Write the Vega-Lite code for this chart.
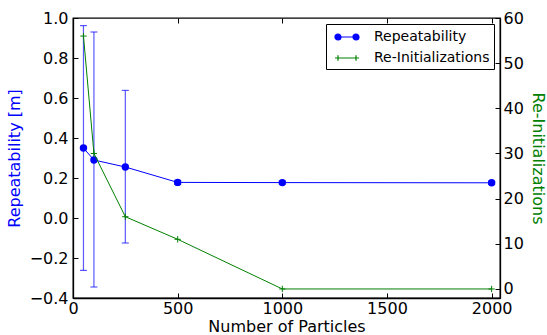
{
  "$schema": "https://vega.github.io/schema/vega-lite/v6.json",
  "width": 427,
  "height": 280,
  "autosize": "none",
  "padding": {"left": 73, "top": 18, "right": 47, "bottom": 37},
  "background": "white",
  "config": {
    "font": "DejaVu Sans",
    "view": {"stroke": "black", "strokeWidth": 1.3},
    "axis": {
      "grid": false,
      "domainColor": "black",
      "domainWidth": 1.3,
      "tickColor": "black",
      "tickSize": -5,
      "tickWidth": 1,
      "labelColor": "black",
      "labelFontSize": 16,
      "titleFontSize": 16,
      "titleFontWeight": "normal",
      "labelPadding": 10,
      "labelOverlap": false,
      "labelFlush": false
    }
  },
  "data": {
    "values": [
      {"n": 50, "rep": 0.35, "lo": -0.262, "hi": 0.962, "reinit": 56},
      {"n": 100, "rep": 0.29, "lo": -0.345, "hi": 0.93, "reinit": 30},
      {"n": 250, "rep": 0.255, "lo": -0.125, "hi": 0.638, "reinit": 16},
      {"n": 500, "rep": 0.178, "lo": 0.168, "hi": 0.188, "reinit": 11},
      {"n": 1000, "rep": 0.177, "lo": 0.169, "hi": 0.185, "reinit": 0},
      {"n": 2000, "rep": 0.176, "lo": 0.168, "hi": 0.184, "reinit": 0}
    ]
  },
  "layer": [
    {
      "encoding": {
        "x": {
          "field": "n",
          "type": "quantitative",
          "scale": {"domain": [0, 2040], "nice": false, "zero": false},
          "axis": {
            "orient": "bottom",
            "values": [0, 500, 1000, 1500, 2000],
            "format": "d",
            "title": "Number of Particles",
            "titlePadding": 2,
            "labelPadding": 7,
            "labelOverlap": false
          }
        },
        "y": {
          "field": "rep",
          "type": "quantitative",
          "scale": {"domain": [-0.4, 1.0], "nice": false, "zero": false},
          "axis": {
            "orient": "left",
            "values": [-0.4, -0.2, 0, 0.2, 0.4, 0.6, 0.8, 1.0],
            "format": ".1f",
            "title": "Repeatability [m]",
            "titleColor": "#0000ff",
            "titlePadding": 7,
            "labelOverlap": false,
            "labelBound": false,
            "labelSeparation": 0
          }
        }
      },
      "layer": [
        {
          "mark": {"type": "rule", "color": "#0000ff", "opacity": 0.65, "strokeWidth": 1.2},
          "encoding": {
            "y": {"field": "lo", "type": "quantitative"},
            "y2": {"field": "hi"}
          }
        },
        {
          "mark": {"type": "tick", "orient": "horizontal", "color": "#0000ff", "opacity": 0.65, "size": 7, "thickness": 1.2},
          "encoding": {"y": {"field": "lo", "type": "quantitative"}}
        },
        {
          "mark": {"type": "tick", "orient": "horizontal", "color": "#0000ff", "opacity": 0.65, "size": 7, "thickness": 1.2},
          "encoding": {"y": {"field": "hi", "type": "quantitative"}}
        },
        {
          "mark": {"type": "line", "strokeWidth": 1},
          "encoding": {
            "color": {
              "datum": "Repeatability",
              "type": "nominal",
              "scale": {"domain": ["Repeatability", "Re-Initializations"], "range": ["#0000ff", "#008000"]},
              "legend": {
                "title": null,
                "orient": "top-right",
                "offset": 6,
                "padding": 4,
                "strokeColor": "black",
                "fillColor": "white",
                "labelFontSize": 14,
                "labelColor": "black",
                "symbolOffset": 8,
                "labelOffset": 18,
                "rowPadding": 5,
                "symbolSize": 256,
                "symbolStrokeWidth": 1.2,
                "encode": {
                  "symbols": {
                    "update": {
                      "shape": {"signal": "datum.value === 'Repeatability' ? 'M-1.5,0H1.5M-1.5,0a0.375,0.375 0 1,0 0.75,0a0.375,0.375 0 1,0 -0.75,0M0.75,0a0.375,0.375 0 1,0 0.75,0a0.375,0.375 0 1,0 -0.75,0' : 'M-1.5,0H1.5M-1.125,-0.33V0.33M1.125,-0.33V0.33'"},
                      "fill": {"scale": "color", "field": "value"},
                      "fillOpacity": {"value": 1}
                    }
                  }
                }
              }
            }
          }
        },
        {
          "mark": {"type": "point", "filled": true, "size": 55, "opacity": 1, "color": "#0000ff"}
        }
      ]
    },
    {
      "encoding": {
        "x": {
          "field": "n",
          "type": "quantitative",
          "axis": {"orient": "top", "values": [0, 500, 1000, 1500, 2000], "labels": false, "title": null, "domain": false}
        }
      },
      "layer": [
        {
          "mark": {"type": "line", "strokeWidth": 1},
          "encoding": {
            "y": {
              "field": "reinit",
              "type": "quantitative",
              "scale": {"domain": [-2, 60], "nice": false, "zero": false},
              "axis": {
                "orient": "right",
                "values": [0, 10, 20, 30, 40, 50, 60],
                "format": "d",
                "title": "Re-Initializations",
                "titleColor": "#008000",
                "titlePadding": 6,
                "labelPadding": 8,
                "labelOverlap": false
              }
            },
            "color": {"datum": "Re-Initializations", "type": "nominal"}
          }
        },
        {
          "mark": {"type": "point", "shape": "M-1,0H1M0,-1V1", "filled": false, "size": 40, "strokeWidth": 1, "color": "#008000", "opacity": 1},
          "encoding": {"y": {"field": "reinit", "type": "quantitative"}}
        }
      ]
    }
  ],
  "resolve": {"scale": {"y": "independent"}, "axis": {"x": "independent"}}
}
